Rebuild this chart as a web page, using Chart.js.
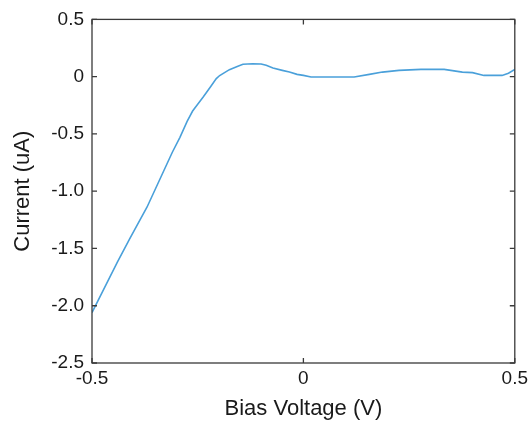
<!DOCTYPE html>
<html>
<head>
<meta charset="utf-8">
<script src="https://cdn.jsdelivr.net/npm/chart.js@4/dist/chart.umd.min.js"></script>
<style>
    html, body { margin: 0; padding: 0; background: #fff; }
    #grafica { display: block; }
</style>
</head>
<body>
<canvas id="grafica" width="532" height="425"></canvas>
<script>
// datos
const voltaje = [-0.5, -0.47, -0.44, -0.41, -0.37, -0.34, -0.31, -0.292, -0.275, -0.262, -0.25, -0.237, -0.22, -0.206, -0.198, -0.175, -0.155, -0.143, -0.12, -0.1, -0.088, -0.072, -0.05, -0.033, -0.015, 0, 0.018, 0.05, 0.09, 0.12, 0.156, 0.187, 0.226, 0.278, 0.333, 0.376, 0.4, 0.427, 0.47, 0.485, 0.5];
const corriente = [-2.06, -1.84, -1.62, -1.41, -1.14, -0.9, -0.66, -0.53, -0.39, -0.3, -0.24, -0.178, -0.09, -0.017, 0.01, 0.061, 0.09, 0.108, 0.113, 0.11, 0.1, 0.075, 0.055, 0.04, 0.02, 0.011, -0.003, -0.003, -0.003, -0.003, 0.02, 0.04, 0.055, 0.064, 0.064, 0.04, 0.035, 0.011, 0.011, 0.03, 0.064];

const ticksX = [-0.5, 0, 0.5];
const etiquetasX = ['-0.5', '0', '0.5'];
const ticksY = [-2.5, -2.0, -1.5, -1.0, -0.5, 0, 0.5];
const etiquetasY = ['-2.5', '-2.0', '-1.5', '-1.0', '-0.5', '0', '0.5'];

const colorLinea = '#4aa0da';
const colorMarco = '#3a3a3a';
const colorTexto = '#1a1a1a';
const fuenteTicks = { family: 'Liberation Sans, Arial, sans-serif', size: 19 };
const fuenteTitulo = { family: 'Liberation Sans, Arial, sans-serif', size: 22 };

// marco tipo matlab con ticks hacia dentro
const marco = {
    id: 'marco',
    afterDraw: (chart) => {
        const { ctx, chartArea: a, scales } = chart;
        const largo = 5;
        ctx.save();
        ctx.strokeStyle = colorMarco;
        ctx.lineWidth = 1.3;
        ctx.strokeRect(a.left, a.top, a.right - a.left, a.bottom - a.top);
        ctx.beginPath();
        ticksY.forEach(v => {
            const y = scales.y.getPixelForValue(v);
            ctx.moveTo(a.left, y); ctx.lineTo(a.left + largo, y);
            ctx.moveTo(a.right, y); ctx.lineTo(a.right - largo, y);
        });
        ticksX.forEach(v => {
            const x = scales.x.getPixelForValue(v);
            ctx.moveTo(x, a.bottom); ctx.lineTo(x, a.bottom - largo);
            ctx.moveTo(x, a.top); ctx.lineTo(x, a.top + largo);
        });
        ctx.stroke();
        ctx.restore();
    }
};

const ctx = document.getElementById('grafica').getContext('2d');
new Chart(ctx, {
    type: 'scatter',
    data: {
        datasets: [{
            data: voltaje.map((v, i) => ({ x: v, y: corriente[i] })),
            showLine: true,
            borderColor: colorLinea,
            borderWidth: 1.6,
            pointRadius: 0,
            tension: 0
        }]
    },
    options: {
        responsive: false,
        animation: false,
        layout: { padding: { top: 19, right: 16, left: 0, bottom: 0 } },
        plugins: {
            legend: { display: false },
            tooltip: { enabled: false }
        },
        scales: {
            x: {
                type: 'linear',
                min: -0.5,
                max: 0.5,
                afterFit: (s) => { s.height = 62; },
                afterBuildTicks: (s) => { s.ticks = ticksX.map(v => ({ value: v })); },
                grid: { display: false, drawTicks: false },
                border: { display: false },
                ticks: {
                    color: colorTexto,
                    font: fuenteTicks,
                    padding: 4,
                    maxRotation: 0,
                    callback: (v) => etiquetasX[ticksX.indexOf(v)]
                },
                title: {
                    display: true,
                    text: 'Bias Voltage (V)',
                    color: colorTexto,
                    font: fuenteTitulo,
                    padding: { top: 0, bottom: 3 }
                }
            },
            y: {
                type: 'linear',
                min: -2.5,
                max: 0.5,
                afterFit: (s) => { s.width = 92; },
                afterBuildTicks: (s) => { s.ticks = ticksY.map(v => ({ value: v })); },
                grid: { display: false, drawTicks: false },
                border: { display: false },
                ticks: {
                    color: colorTexto,
                    font: fuenteTicks,
                    padding: 8,
                    callback: (v) => etiquetasY[ticksY.indexOf(v)]
                },
                title: {
                    display: true,
                    text: 'Current (uA)',
                    color: colorTexto,
                    font: fuenteTitulo,
                    padding: { top: 10, bottom: 0 }
                }
            }
        }
    },
    plugins: [marco]
});
</script>
</body>
</html>
